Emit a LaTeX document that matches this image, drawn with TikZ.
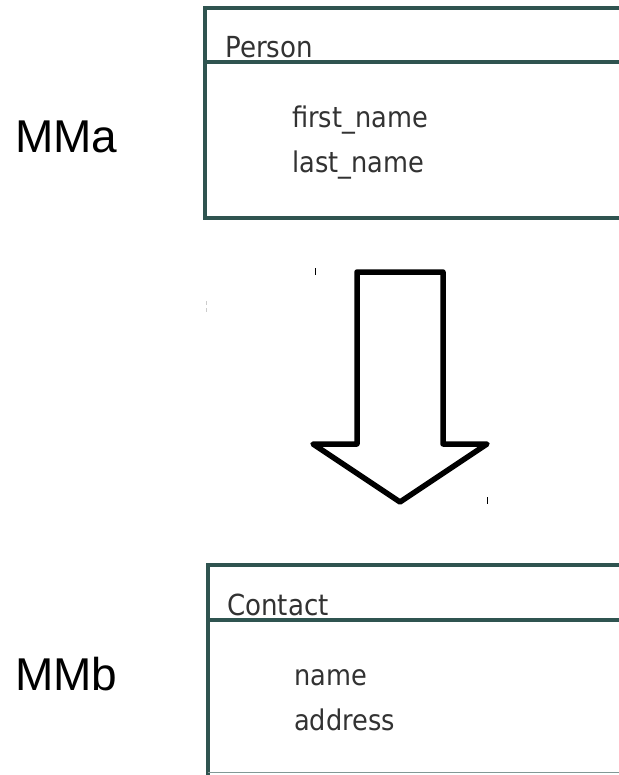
\documentclass[tikz,border=0pt]{standalone}
\usepackage{fontspec}
\setmainfont{Liberation Sans}
\newfontfamily\boxfont[FakeStretch=0.9]{DejaVu Sans}
\definecolor{boxline}{RGB}{47,84,80}
\definecolor{boxtext}{RGB}{50,50,50}
\begin{document}
\begin{tikzpicture}[x=1pt,y=-1pt,
  classline/.style={draw=boxline,line width=3.5pt},
  classtitle/.style={anchor=base west,inner sep=0pt,font=\boxfont\fontsize{29}{34}\selectfont,text=boxtext},
  attr/.style={anchor=base west,inner sep=0pt,font=\boxfont\fontsize{28.5}{34}\selectfont,text=boxtext},
  mmlabel/.style={anchor=base west,inner sep=0pt,font=\fontsize{46}{54}\selectfont,text=black},
  bigarrow/.style={draw=black,line width=5.5pt,line join=round,fill=white}]
\useasboundingbox (0,0) rectangle (618,775);
% labels
\node[mmlabel] (mma) at (15,153) {MMa};
\node[mmlabel] (mmb) at (15,690) {MMb};
% Person box
\draw[classline] (620,8) -- (205,8) -- (205,218) -- (620,218);
\draw[classline] (205,62) -- (620,62);
\node[classtitle] (person) at (225,58) {Person};
\node[attr] (first) at (292,128) {first\_name};
\node[attr] (last) at (292,173) {last\_name};
% Contact box
\draw[classline] (620,565) -- (208,565) -- (208,775);
\draw[classline] (208,620) -- (620,620);
\draw[draw=boxline!60,line width=1pt] (208,772.5) -- (620,772.5);
\node[classtitle] (contact) at (227,615) {Contact};
\node[attr] (name) at (294,685) {name};
\node[attr] (address) at (294,730) {address};
% big arrow
\draw[bigarrow] (357,272) -- (443,272) -- (443,444) -- (487,444) -- (400,502) -- (313,444) -- (357,444) -- cycle;
% small marks
\draw[line width=1pt] (315,268) -- (315,275);
\draw[line width=1pt] (487,497) -- (487,504);
\draw[line width=1pt,gray!40] (206,301) -- (206,305) (206,308) -- (206,312);
\end{tikzpicture}
\end{document}
